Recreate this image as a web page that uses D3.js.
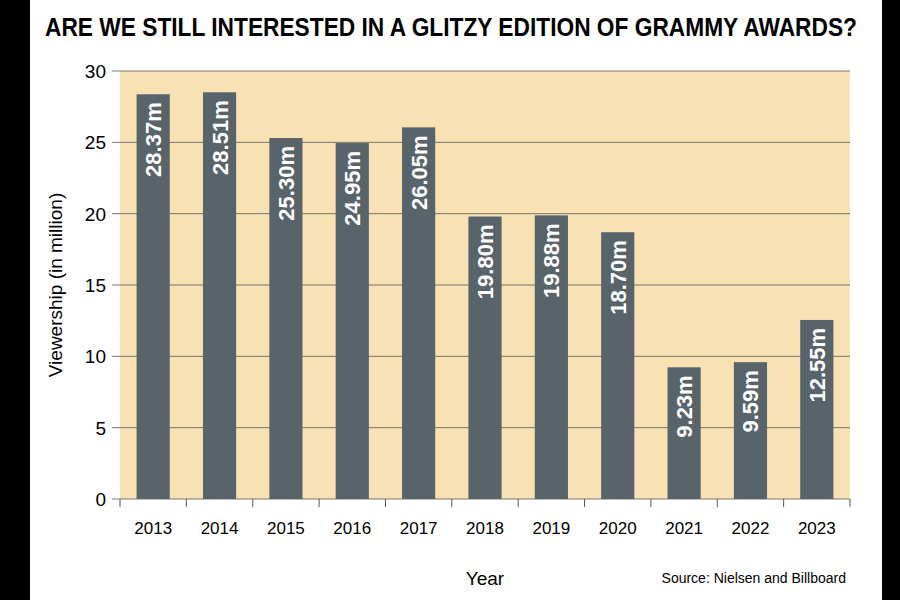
<!DOCTYPE html>
<html><head><meta charset="utf-8">
<script src="https://cdn.jsdelivr.net/npm/d3@7"></script>
<style>body{margin:0;background:#000}</style>
</head><body>
<svg id="chart" width="900" height="600"></svg>
<script>
// Data
var years = ["2013","2014","2015","2016","2017","2018","2019","2020","2021","2022","2023"];
var viewers = [28.37, 28.51, 25.30, 24.95, 26.05, 19.80, 19.88, 18.70, 9.23, 9.59, 12.55];
var yTicks = [0, 5, 10, 15, 20, 25, 30];

var svg = d3.select("#chart");
svg.append("rect").attr("x", 30).attr("y", 0).attr("width", 852).attr("height", 600).attr("fill", "#fff");

svg.append("text").attr("x", 45).attr("y", 36)
  .attr("textLength", 812).attr("lengthAdjust", "spacingAndGlyphs")
  .style("font-family", "'Liberation Sans', Arial, sans-serif")
  .style("font-weight", "bold").style("font-size", "25px")
  .text("ARE WE STILL INTERESTED IN A GLITZY EDITION OF GRAMMY AWARDS?");

var plotL = 120, plotR = 850, plotT = 71, plotB = 499;
var x = d3.scaleBand().domain(years).range([plotL, plotR]).paddingInner(0.5).paddingOuter(0.25);
var y = d3.scaleLinear().domain([0, 30]).range([plotB, plotT]);

svg.append("rect").attr("x", plotL).attr("y", plotT).attr("width", plotR - plotL).attr("height", plotB - plotT)
  .attr("fill", "#f8e2b4");

// gridlines
svg.append("g").selectAll("line").data(yTicks).join("line")
  .attr("x1", plotL - 8).attr("x2", plotR).attr("y1", d => y(d)).attr("y2", d => y(d))
  .attr("stroke", "#555").attr("stroke-width", 0.8);

// y tick labels
svg.append("g").selectAll("text").data(yTicks).join("text")
  .attr("x", plotL - 14).attr("y", d => y(d) + 7).attr("text-anchor", "end")
  .style("font-family", "'Liberation Sans', Arial, sans-serif").style("font-size", "19px")
  .text(d => d);

// x axis ticks
svg.append("g").selectAll("line").data(years.concat(["end"])).join("line")
  .attr("x1", (d, i) => plotL + i * (plotR - plotL) / years.length)
  .attr("x2", (d, i) => plotL + i * (plotR - plotL) / years.length)
  .attr("y1", plotB).attr("y2", plotB + 8).attr("stroke", "#555");

svg.append("g").selectAll("text").data(years).join("text")
  .attr("x", d => x(d) + x.bandwidth() / 2).attr("y", 534).attr("text-anchor", "middle")
  .style("font-family", "'Liberation Sans', Arial, sans-serif").style("font-size", "17px")
  .text(d => d);

// bars
svg.append("g").selectAll("rect").data(viewers).join("rect")
  .attr("x", (d, i) => x(years[i])).attr("width", x.bandwidth())
  .attr("y", d => y(d)).attr("height", d => plotB - y(d))
  .attr("fill", "#59636a");

// value labels
svg.append("g").selectAll("text").data(viewers).join("text")
  .attr("transform", (d, i) => "translate(" + (x(years[i]) + x.bandwidth() / 2 + 8) + "," + (y(d) + 8) + ") rotate(-90)")
  .attr("text-anchor", "end").attr("fill", "#fff")
  .style("font-family", "'Liberation Sans', Arial, sans-serif").style("font-weight", "bold").style("font-size", "22px")
  .text(d => d.toFixed(2) + "m");

svg.append("text").attr("transform", "translate(62,285) rotate(-90)").attr("text-anchor", "middle")
  .style("font-family", "'Liberation Sans', Arial, sans-serif").style("font-size", "19px")
  .text("Viewership (in million)");

svg.append("text").attr("x", 485).attr("y", 585).attr("text-anchor", "middle")
  .style("font-family", "'Liberation Sans', Arial, sans-serif").style("font-size", "19px").text("Year");

svg.append("text").attr("x", 846).attr("y", 583).attr("text-anchor", "end")
  .style("font-family", "'Liberation Sans', Arial, sans-serif").style("font-size", "14px")
  .text("Source: Nielsen and Billboard");
</script>
</body></html>
